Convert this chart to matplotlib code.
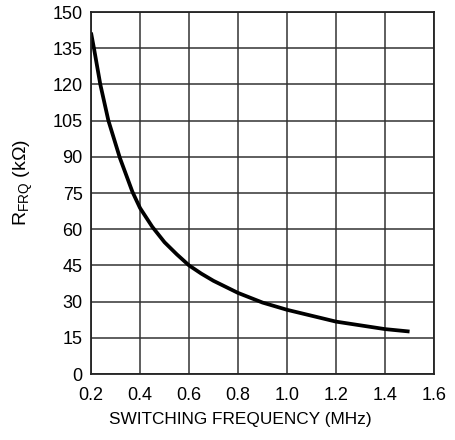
import numpy as np
import matplotlib.pyplot as plt

plt.rcParams['font.family'] = ['Liberation Sans', 'DejaVu Sans']
plt.rcParams['mathtext.fontset'] = 'custom'
plt.rcParams['mathtext.rm'] = 'Liberation Sans'

freq = [0.2, 0.212, 0.238, 0.271, 0.318, 0.369, 0.4, 0.45, 0.5, 0.55, 0.6, 0.65, 0.7, 0.8, 0.9, 1.0, 1.2, 1.4, 1.5]
rfrq = [141.5, 135, 120, 105, 89.5, 75.5, 68.8, 61.0, 54.6, 49.6, 45, 41.6, 38.6, 33.6, 29.6, 26.6, 21.7, 18.6, 17.6]

xticks = [0.2, 0.4, 0.6, 0.8, 1.0, 1.2, 1.4, 1.6]
yticks = [0, 15, 30, 45, 60, 75, 90, 105, 120, 135, 150]

fig = plt.figure(figsize=(4.55, 4.4), dpi=100)
ax = fig.add_axes([0.2, 0.15, 0.754, 0.8227])

ax.plot(freq, rfrq, color='black', lw=2.7, solid_capstyle='butt', solid_joinstyle='round')

ax.set_xlim(0.2, 1.6)
ax.set_ylim(0, 150)
ax.set_xticks(xticks)
ax.set_xticklabels(['%.1f' % t for t in xticks])
ax.set_yticks(yticks)
ax.grid(True, color='#333333', lw=1.1)
ax.tick_params(length=0, labelsize=13)
ax.tick_params(axis='x', pad=9)
ax.tick_params(axis='y', pad=6)
for s in ax.spines.values():
    s.set_color('#222222')
    s.set_linewidth(1.3)

ax.set_xlabel('SWITCHING FREQUENCY (MHz)', fontsize=12.4)
ax.xaxis.set_label_coords(0.434, -0.104)
ax.set_ylabel(r'$\mathregular{R_{FRQ}}$ (k$\Omega$)', fontsize=14)
ax.yaxis.set_label_coords(-0.163, 0.528)

plt.savefig('out.png', dpi=100)
